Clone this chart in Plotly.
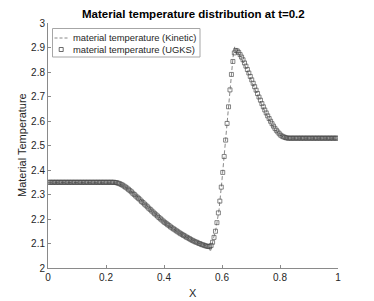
import plotly.graph_objects as go

# ---------------- data ----------------
N_CELLS = 200
ugks_left_plateau = [2.350] * 44
ugks_middle = [
    2.350, 2.350, 2.349, 2.348, 2.346, 2.344, 2.341, 2.338, 2.334, 2.330,
    2.326, 2.321, 2.316, 2.311, 2.305, 2.300, 2.294, 2.289, 2.284, 2.278,
    2.272, 2.267, 2.261, 2.256, 2.250, 2.244, 2.239, 2.233, 2.228, 2.222,
    2.217, 2.212, 2.206, 2.201, 2.196, 2.191, 2.186, 2.182, 2.177, 2.173,
    2.168, 2.164, 2.160, 2.156, 2.152, 2.148, 2.144, 2.140, 2.137, 2.133,
    2.130, 2.126, 2.123, 2.120, 2.116, 2.113, 2.110, 2.107, 2.105, 2.102,
    2.100, 2.097, 2.095, 2.093, 2.091, 2.089, 2.088, 2.087, 2.092, 2.105,
    2.125, 2.150, 2.185, 2.225, 2.273, 2.330, 2.390, 2.455, 2.522, 2.590,
    2.658, 2.727, 2.790, 2.843, 2.878, 2.888, 2.886, 2.880, 2.871, 2.861,
    2.850, 2.837, 2.824, 2.810, 2.796, 2.782, 2.768, 2.754, 2.740, 2.726,
    2.712, 2.698, 2.685, 2.671, 2.658, 2.645, 2.633, 2.621, 2.610, 2.599,
    2.589, 2.579, 2.570, 2.562, 2.555, 2.548, 2.542, 2.538, 2.535, 2.533,
    2.531, 2.530,
]
ugks_right_plateau = [2.530] * 34
ugks_T = ugks_left_plateau + ugks_middle + ugks_right_plateau
if len(ugks_T) != N_CELLS:
    raise ValueError(f"expected {N_CELLS} values, got {len(ugks_T)}")
ugks_x = [(i + 0.5) / N_CELLS for i in range(N_CELLS)]

kinetic_x = [0.0, 0.1, 0.2, 0.22, 0.24, 0.26, 0.28, 0.30, 0.32, 0.34, 0.36,
             0.38, 0.40, 0.42, 0.44, 0.46, 0.48, 0.50, 0.52, 0.54, 0.55,
             0.556, 0.560, 0.565, 0.570, 0.580, 0.590, 0.600, 0.610, 0.620,
             0.630, 0.638, 0.644, 0.650, 0.660, 0.670, 0.680, 0.700, 0.720,
             0.740, 0.760, 0.780, 0.800, 0.820, 0.840, 0.900, 1.0]
kinetic_T = [2.350, 2.350, 2.350, 2.350, 2.347, 2.336, 2.319, 2.300, 2.279,
             2.256, 2.233, 2.210, 2.188, 2.170, 2.153, 2.138, 2.124, 2.112,
             2.101, 2.093, 2.089, 2.084, 2.066, 2.095, 2.118, 2.165, 2.240,
             2.360, 2.490, 2.630, 2.770, 2.860, 2.905, 2.895, 2.872, 2.850,
             2.824, 2.768, 2.712, 2.658, 2.610, 2.570, 2.542, 2.531, 2.530,
             2.530, 2.530]

x_ticks = [0, 0.2, 0.4, 0.6, 0.8, 1]
y_ticks = [2, 2.1, 2.2, 2.3, 2.4, 2.5, 2.6, 2.7, 2.8, 2.9, 3]
legend_labels = ["material temperature (Kinetic)", "material temperature (UGKS)"]
title_text = "Material temperature distribution at t=0.2"

# ---------------- figure ----------------
FONT = "Liberation Sans, Arial, Helvetica, sans-serif"
TXT = "#262626"
AX = "#8a8a8a"
LINE_C = "#7a7a7a"
MARK_C = "#454545"

fig = go.Figure()
fig.add_trace(go.Scatter(
    x=kinetic_x, y=kinetic_T, mode="lines", name=legend_labels[0],
    line=dict(color=LINE_C, width=0.9, dash="4px,2.5px"),
))
fig.add_trace(go.Scatter(
    x=ugks_x, y=ugks_T, mode="markers", name=legend_labels[1],
    marker=dict(symbol="square-open", size=4, color=MARK_C,
                line=dict(color=MARK_C, width=0.65)),
))

W, H = 374, 301
ML, MR, MT, MB = 48, 36, 23, 33
PW, PH = W - ML - MR, H - MT - MB


def px_x(px):
    return (px - ML) / PW


def px_y(py):
    return (H - MB - py) / PH


axis_common = dict(
    showgrid=False, zeroline=False, showline=True, linecolor=AX, linewidth=1,
    ticks="inside", ticklen=3, tickwidth=1, tickcolor=AX, mirror=False,
    tickfont=dict(family=FONT, size=10, color=TXT),
)

fig.update_layout(
    width=W, height=H, margin=dict(l=ML, r=MR, t=MT, b=MB),
    paper_bgcolor="white", plot_bgcolor="white", showlegend=False,
    font=dict(family=FONT, color=TXT),
    xaxis=dict(range=[0, 1], tickvals=x_ticks, ticktext=[f"{v:g}" for v in x_ticks],
               **axis_common),
    yaxis=dict(range=[2, 3], tickvals=y_ticks, ticktext=[f"{v:g}" for v in y_ticks],
               **axis_common),
)

# title and axis labels
fig.add_annotation(text="<b>" + title_text + "</b>", xref="paper", yref="paper",
                   x=0.5, y=1, yshift=(MT - 14), xanchor="center", yanchor="middle",
                   showarrow=False, font=dict(family=FONT, size=11.5, color="#000"))
fig.add_annotation(text="X", xref="paper", yref="paper", x=0.5, y=0, yshift=-25,
                   xanchor="center", yanchor="middle", showarrow=False,
                   font=dict(family=FONT, size=11, color=TXT))
fig.add_annotation(text="Material Temperature", xref="paper", yref="paper", x=0, y=0.5,
                   xshift=-(ML - 21.5), textangle=-90, xanchor="center", yanchor="middle",
                   showarrow=False, font=dict(family=FONT, size=11, color=TXT))

# legend (drawn in MATLAB style)
fig.add_shape(type="rect", xref="paper", yref="paper",
              x0=px_x(52.5), x1=px_x(200), y0=px_y(57), y1=px_y(28.5),
              line=dict(color="#a6a6a6", width=1), fillcolor="white")
fig.add_shape(type="line", xref="paper", yref="paper",
              x0=px_x(54.5), x1=px_x(68.5), y0=px_y(38), y1=px_y(38),
              line=dict(color=LINE_C, width=0.9, dash="3px,2px"))
fig.add_shape(type="rect", xref="paper", yref="paper",
              x0=px_x(59.2), x1=px_x(63.2), y0=px_y(51.5), y1=px_y(47.5),
              line=dict(color=MARK_C, width=0.8))
for lbl, py in zip(legend_labels, [38, 49.5]):
    fig.add_annotation(text=lbl, xref="paper", yref="paper", x=px_x(71), y=px_y(py),
                       xanchor="left", yanchor="middle", showarrow=False,
                       font=dict(family=FONT, size=9.4, color=TXT))

fig.write_html("out.html", config={"displayModeBar": False},
               post_script="document.body.style.margin='0';document.body.style.padding='0';")
